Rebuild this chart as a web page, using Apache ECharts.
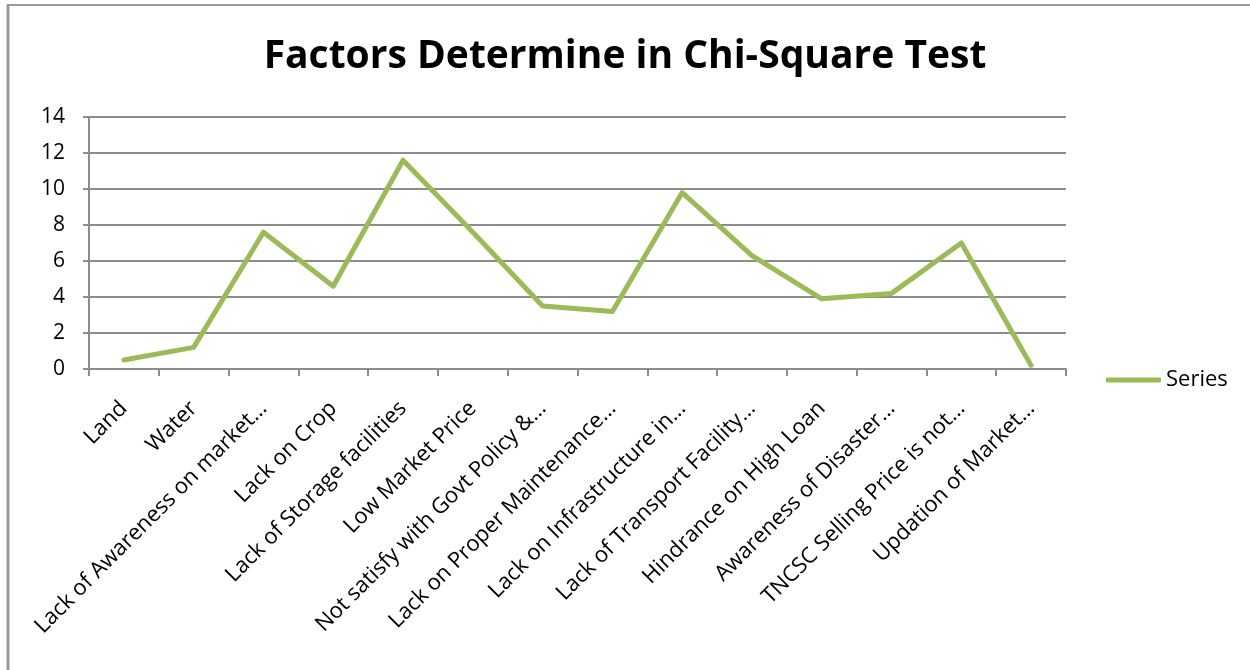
<!DOCTYPE html>
<html lang="en">
  <head>
    <meta charset="UTF-8" />
    <title>Factors Determine in Chi-Square Test</title>
    <script src="https://cdn.jsdelivr.net/npm/echarts@6/dist/echarts.min.js"></script>
    <style>
      html, body { margin: 0; padding: 0; background: #fff; }
      #main { width: 1250px; height: 670px; }
    </style>
  </head>
  <body>
    <div id="main"></div>
    <script>
      // chart data
      var factors = [
        "Land",
        "Water",
        "Lack of Awareness on market…",
        "Lack on Crop",
        "Lack of Storage facilities",
        "Low Market Price",
        "Not satisfy with Govt Policy &…",
        "Lack on Proper Maintenance…",
        "Lack on Infrastructure in…",
        "Lack of Transport Facility…",
        "Hindrance on High Loan",
        "Awareness of Disaster…",
        "TNCSC Selling Price is not…",
        "Updation of Market…"
      ];
      var seriesValues = [0.5, 1.2, 7.6, 4.6, 11.6, 7.6, 3.5, 3.2, 9.8, 6.3, 3.9, 4.2, 7.0, 0.2];
      var yTicks = [0, 2, 4, 6, 8, 10, 12, 14];

      var font = "'Open Sans', sans-serif";
      var green = "#9bbb59";
      var gray = "#8c8c8c";

      var chartDom = document.getElementById("main");
      var myChart = echarts.init(chartDom);
      var option;
      option = {
        backgroundColor: "#fff",
        animation: false,
        title: {
          text: "Factors Determine in Chi-Square Test",
          left: "center",
          top: 37,
          padding: 0,
          textStyle: {
            fontFamily: font,
            fontWeight: "bold",
            fontSize: 39,
            color: "#000"
          }
        },
        legend: {
          left: 1106,
          top: 369,
          padding: 0,
          icon: "roundRect",
          itemWidth: 55,
          itemHeight: 5,
          itemGap: 4,
          textStyle: { fontFamily: font, fontSize: 22, color: "#000" },
          data: [{ name: "Series", itemStyle: { color: green } }]
        },
        grid: {
          left: 89,
          right: 184,
          top: 117,
          bottom: 301,
          containLabel: false
        },
        xAxis: {
          type: "category",
          data: factors,
          boundaryGap: true,
          axisLine: { lineStyle: { color: gray, width: 2 } },
          axisTick: { show: true, length: 7, alignWithLabel: false, lineStyle: { color: gray, width: 2 } },
          axisLabel: {
            interval: 0,
            rotate: 45,
            margin: 36,
            fontFamily: font,
            fontSize: 22,
            color: "#000"
          }
        },
        yAxis: {
          type: "value",
          min: yTicks[0],
          max: yTicks[yTicks.length - 1],
          interval: 2,
          axisLine: { show: true, lineStyle: { color: gray, width: 2 } },
          axisTick: { show: true, length: 6, lineStyle: { color: gray, width: 2 } },
          splitLine: { show: true, lineStyle: { color: gray, width: 2 } },
          axisLabel: {
            margin: 24,
            fontFamily: font,
            fontSize: 21,
            color: "#000"
          }
        },
        series: [
          {
            name: "Series",
            type: "line",
            data: seriesValues,
            symbol: "none",
            smooth: false,
            lineStyle: { color: green, width: 5, cap: "round", join: "round" },
            itemStyle: { color: green }
          }
        ],
        graphic: [
          {
            type: "line",
            shape: { x1: 8, y1: 5, x2: 8, y2: 670 },
            style: { stroke: "#9a9a9a", lineWidth: 3 }
          },
          {
            type: "line",
            shape: { x1: 7, y1: 5, x2: 1250, y2: 5 },
            style: { stroke: "#9a9a9a", lineWidth: 2 }
          }
        ]
      };
      option && myChart.setOption(option);
    </script>
  </body>
</html>
